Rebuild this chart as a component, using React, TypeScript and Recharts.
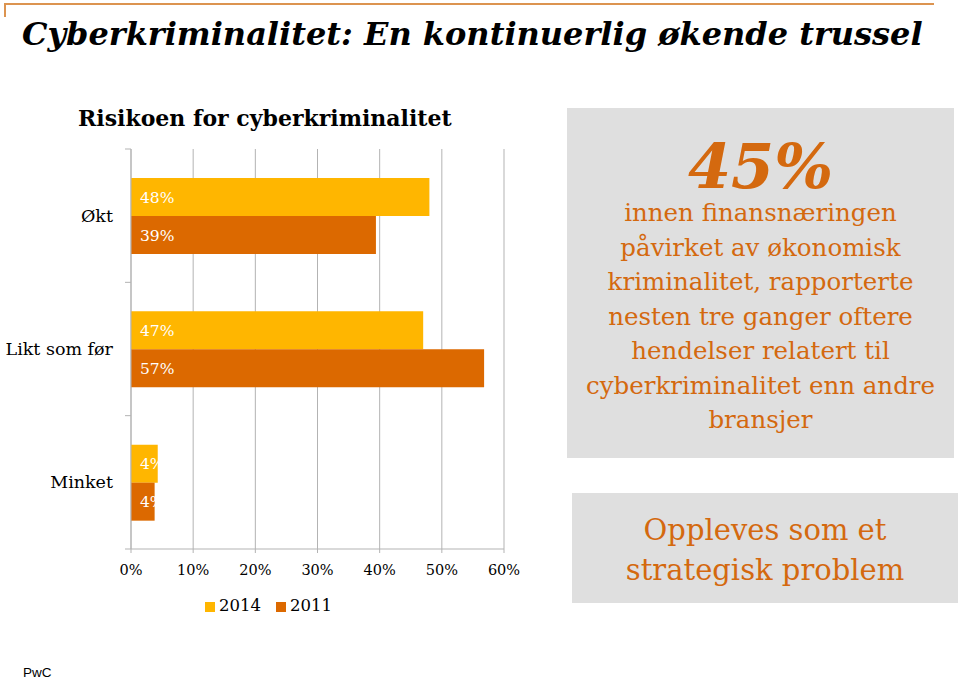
import { Bar, BarChart, CartesianGrid, LabelList, Legend, XAxis, YAxis } from "recharts";

const categories = ["Økt", "Likt som før", "Minket"];
const seriesNames = ["2014", "2011"];
const values2014 = [48, 47, 4.3];
const values2011 = [39.4, 56.8, 3.8];
const xTicks = [0, 10, 20, 30, 40, 50, 60];

const data = categories.map((name, i) => ({
  name,
  y2014: values2014[i],
  y2011: values2011[i],
}));

const SERIF = "'DejaVu Serif', serif";
const ORANGE_TEXT = "#D4690F";
const GRID = "#B3B3B3";
const AXIS_X = 131;

// category label plus the small marks that sit between the categories
function CategoryTick(props: any) {
  const { y, payload, index, visibleTicksCount } = props;
  const half = payload.offset || 66.7;
  const isLast = index === visibleTicksCount - 1;
  return (
    <g>
      <text x={AXIS_X - 18} y={y} dy="0.35em" textAnchor="end" fontFamily={SERIF} fontSize={17.5} fill="#000">
        {payload.value}
      </text>
      <line x1={AXIS_X - 6} x2={AXIS_X} y1={y - half} y2={y - half} stroke={GRID} />
      {isLast && <line x1={AXIS_X - 6} x2={AXIS_X} y1={y + half} y2={y + half} stroke={GRID} />}
    </g>
  );
}

const pct = (v: any) => `${Math.round(Number(v))}%`;

export default function App() {
  return (
    <div
      style={{
        position: "fixed",
        left: 0,
        top: 0,
        width: 960,
        height: 680,
        background: "#fff",
        overflow: "hidden",
      }}
    >
      <BarChart
        width={540}
        height={630}
        data={data}
        layout="vertical"
        barGap={0}
        barSize={38}
        margin={{ top: 149, right: 36, left: 10, bottom: 51 }}
        style={{ position: "absolute", left: 0, top: 0 }}
      >
        <CartesianGrid horizontal={false} stroke={GRID} />
        <XAxis
          type="number"
          domain={[0, 60]}
          ticks={xTicks}
          tickFormatter={(v) => `${v}%`}
          axisLine={{ stroke: GRID }}
          tickLine={{ stroke: GRID }}
          tickSize={4}
          tickMargin={12}
          height={30}
          tick={{ fontFamily: SERIF, fontSize: 14.5, fill: "#000" }}
        />
        <YAxis
          type="category"
          dataKey="name"
          width={121}
          axisLine={{ stroke: GRID }}
          tickLine={false}
          tick={<CategoryTick />}
        />
        <Legend
          layout="horizontal"
          verticalAlign="middle"
          align="center"
          iconType="square"
          iconSize={10}
          itemSorter={(item: any) => seriesNames.indexOf(item.value)}
          wrapperStyle={{ left: 176, top: 596, width: 200 }}
          formatter={(value) => (
            <span style={{ color: "#000", fontFamily: SERIF, fontSize: 16.5, paddingRight: 5 }}>{value}</span>
          )}
        />
        <Bar dataKey="y2014" name="2014" fill="#FFB600" isAnimationActive={false}>
          <LabelList
            dataKey="y2014"
            position="insideLeft"
            offset={9}
            formatter={pct}
            fill="#fff"
            fontFamily={SERIF}
            fontSize={15.5}
          />
        </Bar>
        <Bar dataKey="y2011" name="2011" fill="#DC6900" isAnimationActive={false}>
          <LabelList
            dataKey="y2011"
            position="insideLeft"
            offset={9}
            formatter={pct}
            fill="#fff"
            fontFamily={SERIF}
            fontSize={15.5}
          />
        </Bar>
      </BarChart>

      <div
        style={{
          position: "absolute",
          left: 4,
          top: 3,
          width: 928,
          height: 12,
          borderTop: "2px solid #DC9450",
          borderLeft: "2px solid #DC9450",
        }}
      />
      <div
        style={{
          position: "absolute",
          left: 22,
          top: 12,
          fontFamily: SERIF,
          fontWeight: "bold",
          fontStyle: "italic",
          fontSize: 32,
          lineHeight: "44px",
          whiteSpace: "nowrap",
          color: "#000",
        }}
      >
        Cyberkriminalitet: En kontinuerlig økende trussel
      </div>
      <div
        style={{
          position: "absolute",
          left: 78,
          top: 103,
          fontFamily: SERIF,
          fontWeight: "bold",
          fontSize: 22,
          lineHeight: "30px",
          whiteSpace: "nowrap",
          color: "#000",
        }}
      >
        Risikoen for cyberkriminalitet
      </div>

      <div
        style={{
          position: "absolute",
          left: 567,
          top: 108,
          width: 387,
          height: 350,
          background: "#DFDFDF",
          color: ORANGE_TEXT,
          fontFamily: SERIF,
          textAlign: "center",
        }}
      >
        <div
          style={{
            position: "absolute",
            left: 0,
            right: 0,
            top: 30,
            fontSize: 62,
            lineHeight: "58px",
            fontWeight: "bold",
            fontStyle: "italic",
          }}
        >
          45%
        </div>
        <div
          style={{
            position: "absolute",
            left: 0,
            right: 0,
            top: 88,
            fontSize: 24.5,
            lineHeight: "34.5px",
          }}
        >
          innen finansnæringen
          <br />
          påvirket av økonomisk
          <br />
          kriminalitet, rapporterte
          <br />
          nesten tre ganger oftere
          <br />
          hendelser relatert til
          <br />
          cyberkriminalitet enn andre
          <br />
          bransjer
        </div>
      </div>

      <div
        style={{
          position: "absolute",
          left: 572,
          top: 493,
          width: 386,
          height: 110,
          background: "#DFDFDF",
          color: ORANGE_TEXT,
          fontFamily: SERIF,
          textAlign: "center",
          fontSize: 29,
          lineHeight: "40px",
        }}
      >
        <div style={{ position: "absolute", left: 0, right: 0, top: 17 }}>
          Oppleves som et
          <br />
          strategisk problem
        </div>
      </div>

      <div
        style={{
          position: "absolute",
          left: 23,
          top: 665,
          fontFamily: "'Liberation Sans', Arial, sans-serif",
          fontSize: 13.5,
          lineHeight: "16px",
          color: "#000",
        }}
      >
        PwC
      </div>
    </div>
  );
}
